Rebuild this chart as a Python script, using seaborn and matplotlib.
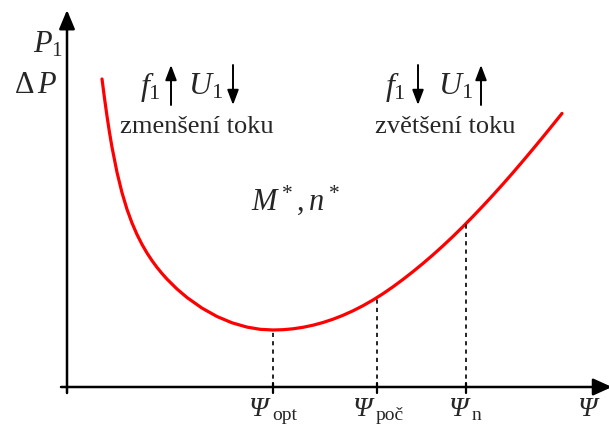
import numpy as np
import matplotlib
matplotlib.use("Agg")
import matplotlib.pyplot as plt
from matplotlib.patches import FancyArrowPatch
import seaborn as sns
import pandas as pd

# Loss curve  P1 / ΔP  versus flux  Ψ  (arbitrary units, origin at axes crossing)
psi = [35, 37.5, 40, 42.5, 45, 50, 55, 60, 65, 70, 75, 80, 85, 90, 95, 100,
       110, 120, 135, 150, 165, 180, 193, 206,
       216, 226, 236, 246, 256, 266, 276, 286, 296, 306, 316, 326, 336,
       346, 356, 366, 376, 386, 396, 406, 416, 426, 436, 446, 456, 466,
       476, 486, 495]
loss = [308.0, 288.8, 270.9, 254.5, 239.8, 214.7, 194.3, 177.7, 164.0, 152.5,
        142.6, 134.0, 126.4, 119.6, 113.5, 107.9, 98.0, 89.5, 78.9, 70.5,
        64.2, 59.9, 57.7, 57,
        57.3, 58.2, 59.7, 61.8, 64.5, 67.8, 71.7, 76.2, 81.3, 87.0, 93.3,
        100.2, 107.6, 115.4, 123.6, 132.2, 141.2, 150.6, 160.4, 170.6, 181.1,
        191.9, 203, 214.4, 226.1, 238, 250.1, 262.4, 273.6]

# Marked flux values on the horizontal axis
tick_psi = [206, 310, 399]
tick_subs = ["opt", "poč", "n"]
tick_label_shift = [-25, -25, -18]

sns.set_style("white")
plt.rcParams["mathtext.fontset"] = "custom"
plt.rcParams["mathtext.rm"] = "Liberation Serif"
plt.rcParams["mathtext.it"] = "Liberation Serif:italic"
plt.rcParams["font.family"] = ["Liberation Serif", "DejaVu Serif"]

fig = plt.figure(figsize=(6.09, 4.25), dpi=100)
ax = fig.add_axes([0, 0, 1, 1])
ax.set_xlim(-67, 542)
ax.set_ylim(-38, 387)
ax.axis("off")

df = pd.DataFrame({"psi": psi, "loss": loss})
sns.lineplot(data=df, x="psi", y="loss", ax=ax, color="#ff0000", lw=2.3,
             sort=False, legend=False)


def arrow(x0, y0, x1, y1, lw, hl, hw):
    ax.add_patch(FancyArrowPatch((x0, y0), (x1, y1), mutation_scale=1,
                                 arrowstyle=f"-|>,head_length={hl},head_width={hw}",
                                 color="black", lw=lw, shrinkA=0, shrinkB=0))


def psi_label(x, sub):
    ax.text(x, -10, "Ψ", fontsize=20, style="italic", ha="left", va="top")
    if sub:
        ax.text(x + 24, -20, sub, fontsize=14, ha="left", va="top")


# coordinate axes
arrow(0, -6, 0, 377, 1.8, 11.5, 4.8)
arrow(-6, 0, 545, 0, 1.8, 11.5, 5.2)

# drop lines from the curve to the axis and tick marks
for x, sub, dx in zip(tick_psi, tick_subs, tick_label_shift):
    y = np.interp(x, psi, loss)
    ax.plot([x, x], [0, y], color="black", lw=1.2, ls=(0, (2.5, 2.5)))
    ax.plot([x, x], [-6, 4], color="black", lw=1.6)
    psi_label(x + dx, sub)

psi_label(510, "")

# axis names
ax.text(-19, 342, r"$P_1$", fontsize=22, ha="center", va="center")
ax.text(-31, 302, r"$\Delta\, P$", fontsize=22, ha="center", va="center")

# weakening region
ax.text(83, 300, r"$f_1$", fontsize=23, ha="center", va="center")
arrow(104, 282, 104, 322, 1.4, 9, 3.4)
ax.text(138, 300, r"$U_1$", fontsize=23, ha="center", va="center")
arrow(166, 322, 166, 282, 1.4, 9, 3.4)
ax.text(130, 260, "zmenšení toku", fontsize=19, ha="center", va="center")

# strengthening region
ax.text(328, 300, r"$f_1$", fontsize=23, ha="center", va="center")
arrow(351, 322, 351, 282, 1.4, 9, 3.4)
ax.text(388, 300, r"$U_1$", fontsize=23, ha="center", va="center")
arrow(414, 282, 414, 322, 1.4, 9, 3.4)
ax.text(378, 260, "zvětšení toku", fontsize=19, ha="center", va="center")

ax.text(228, 187, r"$M^*,n^*$", fontsize=22, ha="center", va="center")

fig.savefig("out.png", dpi=100)
